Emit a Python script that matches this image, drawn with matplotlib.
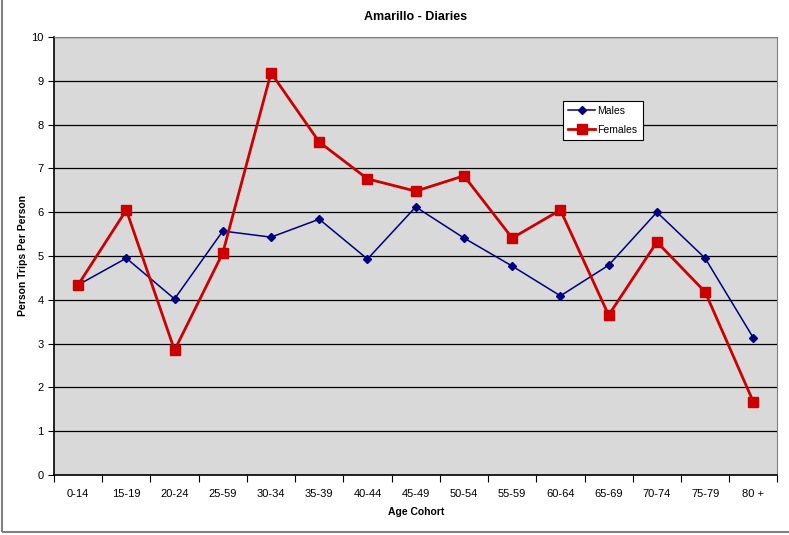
import numpy as np
import matplotlib.pyplot as plt
from matplotlib.patches import Rectangle

plt.rcParams['font.family'] = ['Liberation Sans', 'DejaVu Sans']

cohorts = ["0-14", "15-19", "20-24", "25-59", "30-34", "35-39", "40-44", "45-49",
           "50-54", "55-59", "60-64", "65-69", "70-74", "75-79", "80 +"]
males = [4.34, 4.95, 4.02, 5.57, 5.43, 5.84, 4.93, 6.12, 5.41, 4.77, 4.09, 4.79, 6.00, 4.95, 3.13]
females = [4.34, 6.05, 2.85, 5.07, 9.18, 7.60, 6.76, 6.48, 6.83, 5.41, 6.05, 3.65, 5.32, 4.18, 1.67]

fig = plt.figure(figsize=(7.89, 5.35), dpi=100)
ax = fig.add_axes([0.0684, 0.112, 0.917, 0.819])

# outer frame like the Excel chart area
fig.patches.append(Rectangle((0.003, 0.006), 1.2, 1.2, transform=fig.transFigure,
                             fill=False, edgecolor='#808080', linewidth=1.5))

x = np.arange(len(cohorts))
ax.set_facecolor('#D9D9D9')
ax.plot(x, males, color='#000080', linewidth=1.1, marker='D', markersize=4.5,
        label='Males', zorder=3)
ax.plot(x, females, color='#CC0000', linewidth=2, marker='s', markersize=7,
        label='Females', zorder=4)

ax.set_xlim(-0.5, len(cohorts) - 0.5)
ax.set_ylim(0, 10)
ax.set_yticks(np.arange(0, 11, 1))
ax.yaxis.grid(True, color='black', linewidth=0.9)
ax.set_axisbelow(True)

ax.set_xticks(np.arange(-0.5, len(cohorts), 1))
ax.set_xticklabels([])
ax.set_xticks(x, minor=True)
ax.set_xticklabels(cohorts, minor=True)
ax.tick_params(axis='x', which='major', length=5, direction='out', color='black')
ax.tick_params(axis='x', which='minor', length=0, pad=10, labelsize=8)
ax.tick_params(axis='y', length=4, direction='out', labelsize=8)

for s in ['top', 'right']:
    ax.spines[s].set_color('#808080')
for s in ['left', 'bottom']:
    ax.spines[s].set_color('black')
    ax.spines[s].set_linewidth(1.2)

ax.set_title('Amarillo - Diaries', fontsize=9, fontweight='bold', pad=12)
ax.set_xlabel('Age Cohort', fontsize=7.5, fontweight='bold', labelpad=6)
ax.set_ylabel('Person Trips Per Person', fontsize=7.5, fontweight='bold', labelpad=2)

leg = ax.legend(loc='upper left', bbox_to_anchor=(0.699, 0.862), fontsize=7.5,
                frameon=True, fancybox=False, framealpha=1, edgecolor='black',
                handlelength=2.6, borderpad=0.5, labelspacing=0.85, handletextpad=0.2,
                borderaxespad=0.3)
leg.get_frame().set_linewidth(0.8)

fig.savefig('out.png', dpi=100)
